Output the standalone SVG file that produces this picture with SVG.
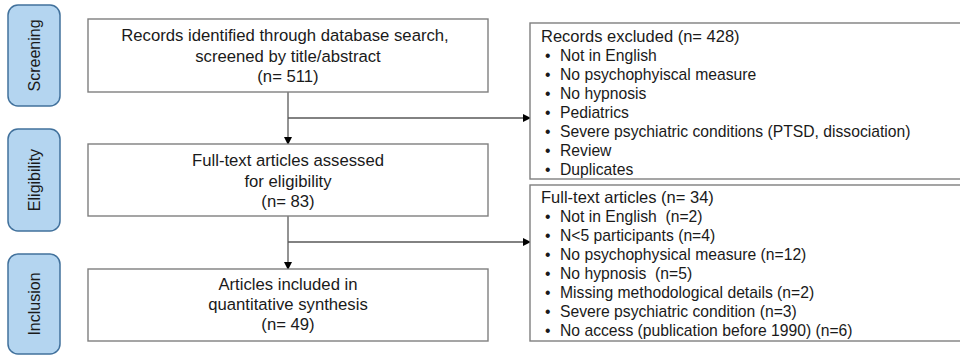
<svg xmlns="http://www.w3.org/2000/svg" width="960" height="355" viewBox="0 0 960 355">
<defs>
<style>
.pill{fill:#b4d5f0;stroke:#41719c;stroke-width:1.5}
.box{fill:#fff;stroke:#7f7f7f;stroke-width:1.4}
.pl{font-family:"Liberation Sans",Arial,sans-serif;font-size:16px;fill:#1a1a1a;text-anchor:middle}
.mt{font-family:"Liberation Sans",Arial,sans-serif;font-size:16.7px;fill:#1a1a1a;text-anchor:middle}
.rt{font-family:"Liberation Sans",Arial,sans-serif;font-size:15.7px;fill:#1a1a1a}
.hd{font-family:"Liberation Sans",Arial,sans-serif;font-size:16.5px;fill:#1a1a1a}
.con{fill:none;stroke:#595959;stroke-width:1.3}
</style>
<marker id="ah" markerWidth="8" markerHeight="8" refX="7" refY="4" orient="auto" markerUnits="userSpaceOnUse">
<path d="M0,0 L8,4 L0,8 Z" fill="#000"/>
</marker>
</defs>
<rect width="960" height="355" fill="#fff"/>
<g id="stage-screening">
<rect class="pill" x="8" y="5" width="52" height="101" rx="10"/>
<text class="pl" transform="translate(39.5,55.5) rotate(-90)">Screening</text>
</g>
<g id="stage-eligibility">
<rect class="pill" x="8" y="129" width="52" height="102" rx="10"/>
<text class="pl" transform="translate(39.5,180) rotate(-90)">Eligibility</text>
</g>
<g id="stage-inclusion">
<rect class="pill" x="8" y="254" width="52" height="100" rx="10"/>
<text class="pl" transform="translate(39.5,304) rotate(-90)">Inclusion</text>
</g>
<g id="connectors">
<line class="con" x1="288" y1="92" x2="288" y2="144" marker-end="url(#ah)"/>
<line class="con" x1="288" y1="118" x2="530" y2="118" marker-end="url(#ah)"/>
<line class="con" x1="288" y1="216" x2="288" y2="269" marker-end="url(#ah)"/>
<line class="con" x1="288" y1="242" x2="530" y2="242" marker-end="url(#ah)"/>
</g>
<g id="records-identified">
<rect class="box" x="88" y="19" width="400" height="73"/>
<text class="mt" x="285" y="41">Records identified through database search,</text>
<text class="mt" x="288" y="62">screened by title/abstract</text>
<text class="mt" x="288" y="82">(n= 511)</text>
</g>
<g id="full-text-assessed">
<rect class="box" x="88" y="144" width="400" height="72"/>
<text class="mt" x="288" y="166">Full-text articles assessed</text>
<text class="mt" x="288" y="187">for eligibility</text>
<text class="mt" x="288" y="207">(n= 83)</text>
</g>
<g id="articles-included">
<rect class="box" x="88" y="269" width="400" height="72"/>
<text class="mt" x="288" y="290">Articles included in</text>
<text class="mt" x="288" y="310">quantitative synthesis</text>
<text class="mt" x="288" y="330">(n= 49)</text>
</g>
<g id="records-excluded">
<rect class="box" x="530" y="23" width="440" height="156"/>
<text class="hd" x="541" y="42">Records excluded (n= 428)</text>
<text class="rt" x="545" y="61">•</text><text class="rt" x="560" y="61">Not in English</text>
<text class="rt" x="545" y="80">•</text><text class="rt" x="560" y="80">No psychophyiscal measure</text>
<text class="rt" x="545" y="99">•</text><text class="rt" x="560" y="99">No hypnosis</text>
<text class="rt" x="545" y="118">•</text><text class="rt" x="560" y="118">Pediatrics</text>
<text class="rt" x="545" y="137">•</text><text class="rt" x="560" y="137">Severe psychiatric conditions (PTSD, dissociation)</text>
<text class="rt" x="545" y="156">•</text><text class="rt" x="560" y="156">Review</text>
<text class="rt" x="545" y="175">•</text><text class="rt" x="560" y="175">Duplicates</text>
</g>
<g id="full-text-excluded">
<rect class="box" x="530" y="185" width="440" height="156"/>
<text class="hd" x="541" y="203">Full-text articles (n= 34)</text>
<text class="rt" x="545" y="222">•</text><text class="rt" x="560" y="222" xml:space="preserve">Not in English  (n=2)</text>
<text class="rt" x="545" y="241">•</text><text class="rt" x="560" y="241">N&lt;5 participants (n=4)</text>
<text class="rt" x="545" y="260">•</text><text class="rt" x="560" y="260">No psychophysical measure (n=12)</text>
<text class="rt" x="545" y="279">•</text><text class="rt" x="560" y="279" xml:space="preserve">No hypnosis  (n=5)</text>
<text class="rt" x="545" y="298">•</text><text class="rt" x="560" y="298">Missing methodological details (n=2)</text>
<text class="rt" x="545" y="317">•</text><text class="rt" x="560" y="317">Severe psychiatric condition (n=3)</text>
<text class="rt" x="545" y="336">•</text><text class="rt" x="560" y="336">No access (publication before 1990) (n=6)</text>
</g>
</svg>
